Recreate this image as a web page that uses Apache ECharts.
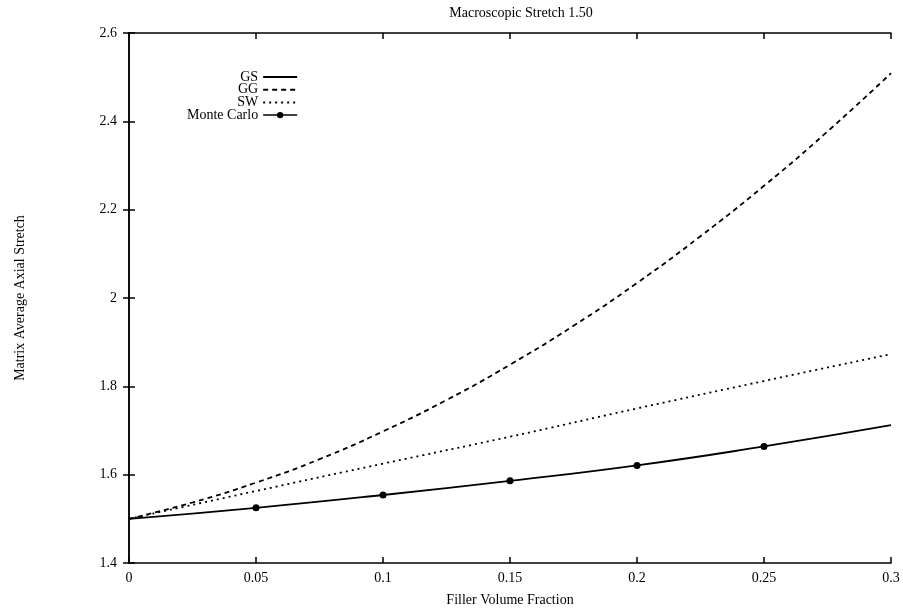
<!DOCTYPE html>
<html>
<head>
<meta charset="utf-8">
<script src="https://cdn.jsdelivr.net/npm/echarts@6/dist/echarts.min.js"></script>
<style>
  html, body { margin: 0; padding: 0; background: #fff; }
  #chart { width: 903px; height: 613px; }
</style>
</head>
<body>
<div id="chart"></div>
<script>
// values
var fracFine = [0, 0.025, 0.05, 0.075, 0.1, 0.125, 0.15, 0.175, 0.2, 0.225, 0.25, 0.275, 0.3];
var ggVals = [1.5, 1.537, 1.582, 1.635, 1.698, 1.769, 1.849, 1.937, 2.034, 2.140, 2.254, 2.377, 2.509];

var frac = [0, 0.05, 0.1, 0.15, 0.2, 0.25, 0.3];
var gsVals = [1.5, 1.525, 1.554, 1.586, 1.621, 1.664, 1.712];
var swVals = [1.5, 1.563, 1.625, 1.686, 1.750, 1.812, 1.873];

var mcFrac = [0.05, 0.1, 0.15, 0.2, 0.25];
var mcVals = [1.525, 1.554, 1.586, 1.621, 1.664];

function pairs(xs, ys) {
    var out = [];
    for (var i = 0; i < xs.length; i++) out.push([xs[i], ys[i]]);
    return out;
}

var font = 'Liberation Serif';
var black = '#000';

var option = {
    animation: false,
    backgroundColor: '#fff',
    title: {
        text: 'Macroscopic Stretch 1.50',
        left: 516,
        textAlign: 'center',
        top: 1,
        textStyle: { fontFamily: font, fontSize: 14, fontWeight: 'normal', color: black }
    },
    legend: {
        orient: 'vertical',
        align: 'right',
        left: 182,
        top: 65,
        itemWidth: 34,
        itemHeight: 8,
        itemGap: -1.3,
        textStyle: { fontFamily: font, fontSize: 14, color: black, lineHeight: 12 },
        data: [
            { name: 'GS', itemStyle: { opacity: 0 } },
            { name: 'GG', itemStyle: { opacity: 0 } },
            { name: 'SW', itemStyle: { opacity: 0 } },
            { name: 'Monte Carlo', lineStyle: { width: 1.5, color: black, opacity: 1 } }
        ]
    },
    grid: { left: 129, right: 12, top: 33, bottom: 50 },
    xAxis: [{
        type: 'value',
        min: 0, max: 0.3, interval: 0.05,
        name: 'Filler Volume Fraction',
        nameLocation: 'middle',
        nameGap: 30,
        nameTextStyle: { fontFamily: font, fontSize: 14, color: black },
        axisLine: { show: true, onZero: false, lineStyle: { color: black, width: 1.5 } },
        axisTick: { inside: true, length: 6, lineStyle: { color: black, width: 1.5 } },
        axisLabel: { fontFamily: font, fontSize: 14, color: black, margin: 8 },
        splitLine: { show: false }
    }, {
        type: 'value',
        position: 'top',
        min: 0, max: 0.3, interval: 0.05,
        axisLine: { show: true, lineStyle: { color: black, width: 1.5 } },
        axisTick: { inside: true, length: 6, lineStyle: { color: black, width: 1.5 } },
        axisLabel: { show: false },
        splitLine: { show: false }
    }],
    yAxis: [{
        type: 'value',
        min: 1.4, max: 2.6, interval: 0.2,
        name: 'Matrix Average Axial Stretch',
        nameLocation: 'middle',
        nameGap: 102,
        nameTextStyle: { fontFamily: font, fontSize: 14, color: black },
        axisLine: { show: true, onZero: false, lineStyle: { color: black, width: 1.5 } },
        axisTick: { inside: true, length: 6, lineStyle: { color: black, width: 1.5 } },
        axisLabel: { fontFamily: font, fontSize: 14, color: black, margin: 12 },
        splitLine: { show: false }
    }, {
        type: 'value',
        position: 'right',
        min: 1.4, max: 2.6, interval: 0.2,
        axisLine: { show: true, lineStyle: { color: black, width: 1.5 } },
        axisTick: { inside: true, length: 6, lineStyle: { color: black, width: 1.5 } },
        axisLabel: { show: false },
        splitLine: { show: false }
    }],
    series: [
        {
            name: 'GS',
            type: 'line',
            smooth: true,
            symbol: 'none',
            lineStyle: { color: black, width: 1.8 },
            itemStyle: { color: black },
            data: pairs(frac, gsVals)
        },
        {
            name: 'GG',
            type: 'line',
            smooth: true,
            symbol: 'none',
            lineStyle: { color: black, width: 1.8, type: [5, 4] },
            itemStyle: { color: black },
            data: pairs(fracFine, ggVals)
        },
        {
            name: 'SW',
            type: 'line',
            smooth: true,
            symbol: 'none',
            lineStyle: { color: black, width: 1.8, type: [2, 4] },
            itemStyle: { color: black },
            data: pairs(frac, swVals)
        },
        {
            name: 'Monte Carlo',
            type: 'line',
            symbol: 'circle',
            symbolSize: 7,
            lineStyle: { width: 0, opacity: 0 },
            itemStyle: { color: black },
            z: 3,
            data: pairs(mcFrac, mcVals)
        }
    ]
};

var myChart = echarts.init(document.getElementById('chart'));
myChart.setOption(option);
</script>
</body>
</html>
